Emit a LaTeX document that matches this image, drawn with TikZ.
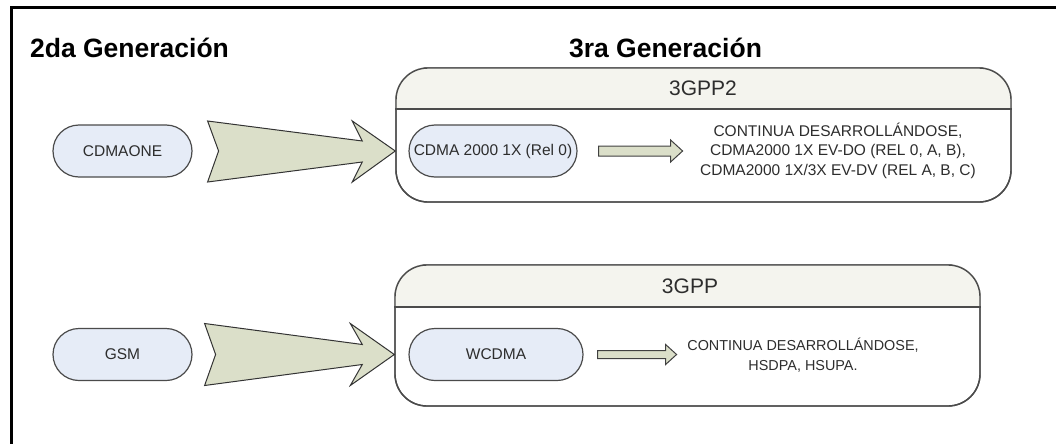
\documentclass[tikz,border=0pt]{standalone}
\usepackage{fontspec}
\setmainfont{Liberation Sans}
\usetikzlibrary{calc,shapes.misc}
\definecolor{pillfill}{RGB}{230,236,247}
\definecolor{arrfill}{RGB}{219,223,201}
\definecolor{headfill}{RGB}{244,244,238}
\definecolor{linegray}{RGB}{75,75,75}
\definecolor{txtgray}{RGB}{45,45,45}
\tikzset{
  pill/.style={rounded rectangle, draw=linegray, line width=1.2pt, fill=pillfill,
    minimum height=52pt, inner sep=0pt, font=\fontsize{15.5}{18}\selectfont, text=txtgray},
  gbox/.style={draw=linegray, line width=1.4pt, rounded corners=32pt, inner sep=0pt},
  headtxt/.style={font=\fontsize{21}{24}\selectfont, text=txtgray},
  title/.style={font=\bfseries\fontsize{26.5}{30}\selectfont, anchor=base},
  bodytxt/.style={align=center, text=txtgray, inner sep=0pt},
  bigarrow/.style={draw=black!80, line width=1pt, fill=arrfill, line join=miter},
  smallarrow/.style={draw=black!75, line width=1pt, fill=arrfill, line join=miter}
}
\begin{document}
\begin{tikzpicture}[x=1pt,y=-1pt]
\useasboundingbox (0,0) rectangle (1056,444);
% outer frame
\draw[line width=2.5pt] (1056,7.5) -- (11.5,7.5) -- (11.5,444);
% titles
\node[title] (t2) at (129.5,57) {2da Generación};
\node[title] (t3) at (665.5,57) {3ra Generación};
% boxes
\node[gbox, minimum width=615pt, minimum height=134pt] (g2) at (703.5,135) {};
\node[gbox, minimum width=585pt, minimum height=141pt] (g3) at (687.5,335.5) {};
\begin{scope}
  \clip (0,68) rectangle (1056,109);
  \fill[headfill, rounded corners=32pt] (g2.north west) rectangle (g2.south east);
\end{scope}
\begin{scope}
  \clip (0,265) rectangle (1056,307);
  \fill[headfill, rounded corners=32pt] (g3.north west) rectangle (g3.south east);
\end{scope}
\node[gbox, minimum width=615pt, minimum height=134pt] at (703.5,135) {};
\node[gbox, minimum width=585pt, minimum height=141pt] at (687.5,335.5) {};
\draw[linegray, line width=1.4pt] (g2.west |- 0,109) -- (g2.east |- 0,109);
\draw[linegray, line width=1.4pt] (g3.west |- 0,307) -- (g3.east |- 0,307);
\node[headtxt] (h2) at (703,88) {3GPP2};
\node[headtxt] (h3) at (690,286) {3GPP};
% pills
\node[pill, minimum width=139pt] (cdmaone) at (122.5,151) {CDMAONE};
\node[pill, minimum width=139pt] (gsm) at (122.5,354.5) {GSM};
\node[pill, minimum width=168pt] (cdma) at (493,151) {CDMA 2000 1X (Rel 0)};
\node[pill, minimum width=174pt] (wcdma) at (496,354.5) {WCDMA};
% texts
\node[bodytxt, font=\fontsize{15.5}{19.5}\selectfont] (txt1) at (838,150.5)
  {CONTINUA DESARROLLÁNDOSE,\\CDMA2000 1X EV-DO (REL 0, A, B),\\CDMA2000 1X/3X EV-DV (REL A, B, C)};
\node[bodytxt, font=\fontsize{14.4}{20}\selectfont] (txt2) at (803,355)
  {CONTINUA DESARROLLÁNDOSE,\\HSDPA, HSUPA.};
% big arrows
\coordinate (a1s) at ($(cdmaone.east)+(15,0)$);
\coordinate (a1e) at (g2.west |- cdmaone.east);
\draw[bigarrow] ($(a1s)+(0,-30)$) -- ($(a1e)+(-33,-10)$) -- ($(a1e)+(-43,-30)$) -- (a1e)
  -- ($(a1e)+(-43,31)$) -- ($(a1e)+(-33,11)$) -- ($(a1s)+(0,31)$) -- ($(a1s)+(11,0)$) -- cycle;
\coordinate (a2s) at ($(gsm.east)+(12,0)$);
\coordinate (a2e) at (g3.west |- gsm.east);
\draw[bigarrow] ($(a2s)+(0,-31)$) -- ($(a2e)+(-32,-10)$) -- ($(a2e)+(-44,-31)$) -- (a2e)
  -- ($(a2e)+(-44,31)$) -- ($(a2e)+(-32,10)$) -- ($(a2s)+(0,31)$) -- ($(a2s)+(11,0)$) -- cycle;
% small arrows
\coordinate (b1s) at ($(cdma.east)+(21,0)$);
\coordinate (b1e) at ($(b1s)+(84,0)$);
\draw[smallarrow] ($(b1s)+(0,-5)$) -- ($(b1e)+(-12,-5)$) -- ($(b1e)+(-12,-11)$) -- (b1e)
  -- ($(b1e)+(-12,11)$) -- ($(b1e)+(-12,5)$) -- ($(b1s)+(0,5)$) -- cycle;
\coordinate (b2s) at ($(wcdma.east)+(14,0)$);
\coordinate (b2e) at ($(b2s)+(79,0)$);
\draw[smallarrow] ($(b2s)+(0,-4)$) -- ($(b2e)+(-11,-4)$) -- ($(b2e)+(-11,-10)$) -- (b2e)
  -- ($(b2e)+(-11,10)$) -- ($(b2e)+(-11,4)$) -- ($(b2s)+(0,4)$) -- cycle;
\end{tikzpicture}
\end{document}
